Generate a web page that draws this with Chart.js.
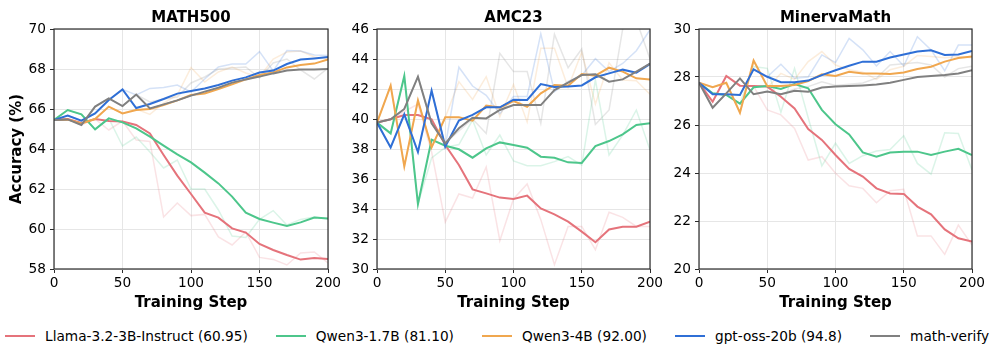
<!DOCTYPE html>
<html><head><meta charset="utf-8">
<script src="https://cdn.jsdelivr.net/npm/chart.js@4.4.1/dist/chart.umd.min.js"></script>
<style>
html,body{margin:0;padding:0;background:#fff;}
body{width:996px;height:356px;overflow:hidden;position:relative;font-family:'DejaVu Sans',sans-serif;}
canvas{position:absolute;top:0;}
#legend{position:absolute;left:5px;top:327px;height:18px;display:flex;gap:28px;align-items:center;font-size:13.7px;color:#000;white-space:nowrap;}
.item{display:flex;align-items:center;}
.swatch{display:inline-block;width:30px;height:2px;margin-right:10px;}
</style></head><body>
<canvas id="c0" width="350" height="320" style="left:0px"></canvas>
<canvas id="c1" width="340" height="320" style="left:330px"></canvas>
<canvas id="c2" width="344" height="320" style="left:652px"></canvas>
<div id="legend"></div>
<script>
// ---------- data ----------
const steps = [0,10,20,30,40,50,60,70,80,90,100,110,120,130,140,150,160,170,180,190,200];
const seriesNames = ['Llama-3.2-3B-Instruct (60.95)','Qwen3-1.7B (81.10)','Qwen3-4B (92.00)','gpt-oss-20b (94.8)','math-verify'];
const seriesColors = ['#e5737b','#4dc68b','#f0a74f','#2f6fd6','#808080'];
const panelTitles = ['MATH500','AMC23','MinervaMath'];
const yMin = [58,30,20];
const yMax = [70,46,30];

// MATH500
const math_llama_s  = [65.45,65.5,65.3,65.5,65.4,65.37,65.2,64.78,63.7,62.67,61.75,60.82,60.57,60.03,59.82,59.25,58.95,58.7,58.47,58.55,58.5];
const math_llama_r  = [65.45,65.5,65.2,65.5,64.95,65.4,64.45,64.38,60.6,61.3,60.67,60.73,59.6,59.2,59.85,58.58,58.48,58.2,58.8,58.85,58.3];
const math_q17_s    = [65.45,65.95,65.73,64.98,65.53,65.33,65.03,64.62,64.17,63.73,63.33,62.82,62.28,61.62,60.82,60.5,60.32,60.15,60.33,60.57,60.53];
const math_q17_r    = [65.45,65.95,65.73,64.98,65.53,64.15,64.6,63.85,63.05,63.45,62.0,62.0,60.95,59.65,59.58,60.48,60.92,60.2,60.48,60.6,60.5];
const math_q4_s     = [65.45,65.47,65.28,65.5,66.12,65.78,65.95,66.0,66.2,66.43,66.7,66.78,67.0,67.23,67.48,67.7,67.83,68.08,68.2,68.27,68.48];
const math_q4_r     = [65.45,65.47,65.28,65.5,66.12,65.78,66.0,65.73,66.3,66.7,68.07,67.35,67.85,68.1,67.8,67.6,68.5,68.85,68.9,68.6,68.5];
const math_gpt_s    = [65.45,65.67,65.42,65.78,66.45,66.98,66.05,66.25,66.5,66.77,66.9,67.03,67.2,67.42,67.58,67.82,67.92,68.25,68.47,68.53,68.6];
const math_gpt_r    = [65.45,65.67,65.42,65.78,66.45,66.98,66.7,67.03,67.07,67.2,66.85,67.5,68.1,68.25,68.25,68.87,67.9,68.92,68.9,68.7,68.67];
const math_mv_s     = [65.45,65.48,65.2,66.12,66.53,66.15,66.72,66.03,66.23,66.43,66.67,66.87,67.07,67.32,67.48,67.62,67.78,67.92,67.98,67.97,68.0];
const math_mv_r     = [65.45,65.48,65.2,66.12,66.53,66.15,66.72,66.35,66.5,66.6,67.3,67.6,68.0,68.05,68.1,67.55,68.3,68.5,67.95,67.5,68.05];

// AMC23
const amc_llama_s = [39.76,39.98,40.27,40.27,39.98,38.27,36.93,35.31,35.04,34.76,34.67,34.89,34.04,33.64,33.16,32.49,31.78,32.64,32.82,32.82,33.16];
const amc_llama_r = [39.76,40.0,40.5,41.0,37.8,33.13,35.0,34.73,36.8,31.89,34.67,35.67,33.29,30.29,32.84,32.84,31.29,33.78,33.44,32.84,32.84];
const amc_q17_s   = [39.76,39.04,42.87,34.33,38.62,38.22,37.98,37.42,38.04,38.44,38.27,38.09,37.49,37.42,37.11,37.07,38.2,38.53,38.98,39.6,39.71];
const amc_q17_r   = [39.76,39.04,42.87,34.33,37.4,38.1,38.3,39.93,37.6,38.93,37.2,36.89,36.89,37.16,37.49,36.93,42.6,37.6,38.93,40.6,37.93];
const amc_q4_s    = [39.76,42.22,36.84,41.24,38.11,40.11,40.11,39.89,40.89,40.76,41.2,40.82,41.71,42.27,42.22,43.0,42.89,43.42,43.16,42.71,42.64];
const amc_q4_r    = [39.76,42.22,36.84,41.24,38.11,40.11,42.49,41.3,42.82,40.16,42.3,39.8,44.71,44.71,42.1,44.45,41.0,43.75,42.6,42.55,41.65];
const amc_gpt_s   = [39.76,38.1,40.31,37.8,41.89,38.16,39.89,40.27,40.78,40.78,41.29,41.27,42.33,42.13,42.16,42.24,42.78,43.04,43.29,43.09,43.67];
const amc_gpt_r   = [39.76,38.1,40.31,37.8,41.89,38.16,43.45,42.2,41.58,40.35,41.5,41.5,45.68,41.82,42.5,42.9,44.02,43.16,43.7,44.55,45.95];
const amc_mv_s    = [39.76,39.98,40.67,42.82,39.71,38.38,39.38,40.09,40.04,40.6,40.93,40.93,40.93,41.93,42.42,42.93,42.98,42.49,42.64,43.16,43.69];
const amc_mv_r    = [39.76,39.98,40.67,42.82,39.71,38.38,39.2,40.0,39.04,44.38,43.16,43.16,39.71,45.64,43.42,44.67,39.64,40.6,46.0,46.6,44.0];

// MinervaMath
const min_llama_s = [27.76,26.97,28.04,27.64,27.62,27.6,27.18,26.69,25.83,25.38,24.75,24.17,23.85,23.36,23.15,23.13,22.6,22.28,21.65,21.28,21.14];
const min_llama_r = [27.76,26.97,28.04,27.64,27.62,26.63,26.42,25.86,24.54,24.68,23.99,23.47,23.36,22.76,23.26,23.32,21.38,21.38,20.61,21.83,21.0];
const min_q17_s   = [27.76,27.32,27.25,26.89,27.57,27.62,27.5,27.71,27.53,26.63,26.03,25.61,24.86,24.68,24.85,24.89,24.89,24.75,24.89,25.01,24.75];
const min_q17_r   = [27.76,27.32,27.25,26.89,28.43,28.36,26.53,28.36,26.3,24.3,25.24,24.4,24.72,24.92,24.98,25.55,24.4,23.95,25.68,25.65,24.13];
const min_q4_s    = [27.76,27.58,27.76,26.51,28.69,27.62,27.62,27.67,27.83,28.11,28.04,28.22,28.15,28.15,28.13,28.19,28.33,28.43,28.64,28.79,28.85];
const min_q4_r    = [27.76,27.58,27.76,26.51,28.69,27.55,28.15,27.9,28.64,29.06,28.5,28.3,28.2,27.9,28.3,28.45,28.9,28.85,28.8,28.85,28.8];
const min_gpt_s   = [27.76,27.28,27.28,27.25,28.32,28.01,27.78,27.78,27.85,28.08,28.28,28.47,28.64,28.64,28.81,28.94,29.06,29.11,28.92,28.94,29.08];
const min_gpt_r   = [27.76,27.28,27.28,27.25,28.32,28.01,28.53,27.95,28.0,28.92,28.6,29.61,29.13,28.46,29.06,28.46,29.68,29.13,28.26,29.33,29.33];
const min_mv_s    = [27.76,26.72,27.32,27.94,27.28,27.39,27.28,27.43,27.39,27.56,27.6,27.62,27.65,27.69,27.76,27.88,28.0,28.04,28.08,28.15,28.28];
const min_mv_r    = [27.76,26.72,27.32,27.94,27.28,27.39,27.28,27.5,27.6,27.8,27.65,27.7,27.75,27.95,28.5,28.55,28.6,28.5,28.0,28.35,28.45];

const panelSmooth = [
  [math_llama_s, math_q17_s, math_q4_s, math_gpt_s, math_mv_s],
  [amc_llama_s, amc_q17_s, amc_q4_s, amc_gpt_s, amc_mv_s],
  [min_llama_s, min_q17_s, min_q4_s, min_gpt_s, min_mv_s]
];
const panelRaw = [
  [math_llama_r, math_q17_r, math_q4_r, math_gpt_r, math_mv_r],
  [amc_llama_r, amc_q17_r, amc_q4_r, amc_gpt_r, amc_mv_r],
  [min_llama_r, min_q17_r, min_q4_r, min_gpt_r, min_mv_r]
];

// ---------- layout ----------
const yAxisWidth = [54, 47, 47];
const padRight = [22, 20, 24];

function rgba(hex, a){
  const n = parseInt(hex.slice(1),16);
  return `rgba(${(n>>16)&255},${(n>>8)&255},${n&255},${a})`;
}
const frame = {
  id:'frame',
  afterDatasetsDraw(chart){
    const {ctx, chartArea:a} = chart;
    ctx.save();
    ctx.strokeStyle = '#2b2b2b';
    ctx.lineWidth = 1.2;
    ctx.strokeRect(a.left, a.top, a.right-a.left, a.bottom-a.top);
    ctx.restore();
  }
};
const FONT = "'DejaVu Sans', sans-serif";
const toXY = vals => steps.map((s,i)=>({x:s, y:vals[i]}));

for (let p=0; p<3; p++){
  const datasets = [];
  let k = 0;
  panelRaw[p].forEach((vals,i)=>{
    datasets.push({data:toXY(vals), borderColor:rgba(seriesColors[i],0.2), borderWidth:1.5, pointRadius:0, tension:0, order:-(k++)});
  });
  panelSmooth[p].forEach((vals,i)=>{
    datasets.push({data:toXY(vals), borderColor:seriesColors[i], borderWidth:2, pointRadius:0, tension:0, order:-(k++)});
  });
  new Chart(document.getElementById('c'+p), {
    type:'line',
    data:{datasets},
    plugins:[frame],
    options:{
      responsive:false, animation:false, devicePixelRatio:1,
      layout:{padding:{left:0, right:padRight[p], top:0, bottom:0}},
      plugins:{
        legend:{display:false}, tooltip:{enabled:false},
        title:{display:true, text:panelTitles[p], fullSize:false, color:'#000',
               font:{family:FONT, size:15, weight:'bold'}, padding:{top:9, bottom:2}}
      },
      scales:{
        x:{type:'linear', min:0, max:200,
           ticks:{stepSize:50, color:'#000', font:{family:FONT, size:13.7}, padding:2, maxRotation:0},
           grid:{color:'#e6e6e6', lineWidth:1, tickColor:'#2b2b2b', tickLength:4},
           border:{display:false},
           title:{display:true, text:'Training Step', color:'#000', font:{family:FONT, size:15, weight:'bold'}, padding:{top:0, bottom:8}},
           afterFit:s=>{s.height = 51;}
        },
        y:{type:'linear', min:yMin[p], max:yMax[p],
           ticks:{stepSize:2, color:'#000', font:{family:FONT, size:13.7}, padding:4},
           grid:{color:'#e6e6e6', lineWidth:1, tickColor:'#2b2b2b', tickLength:4},
           border:{display:false},
           title:{display:p===0, text:'Accuracy (%)', color:'#000', font:{family:FONT, size:15, weight:'bold'}, padding:{top:8.5, bottom:0}},
           afterFit:s=>{s.width = yAxisWidth[p];}
        }
      }
    }
  });
}

// ---------- legend ----------
const leg = document.getElementById('legend');
seriesNames.forEach((name,i)=>{
  const it = document.createElement('div'); it.className='item';
  const sw = document.createElement('span'); sw.className='swatch'; sw.style.background = seriesColors[i];
  const tx = document.createElement('span'); tx.textContent = name;
  it.appendChild(sw); it.appendChild(tx); leg.appendChild(it);
});
</script>
</body></html>
